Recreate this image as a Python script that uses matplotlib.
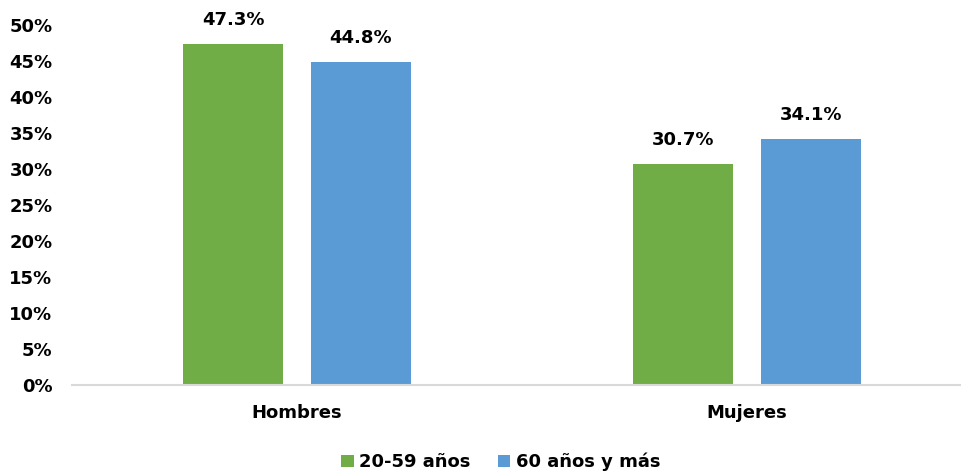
import matplotlib.pyplot as plt
from matplotlib.ticker import PercentFormatter
import numpy as np

categorias = ["Hombres", "Mujeres"]
series = ["20-59 años", "60 años y más"]
val_20_59 = [47.3, 30.7]
val_60_mas = [44.8, 34.1]
yticks = [0, 5, 10, 15, 20, 25, 30, 35, 40, 45, 50]

colores = ["#70AD47", "#5B9BD5"]

plt.rcParams['font.family'] = ['DejaVu Sans']
plt.rcParams['font.weight'] = 'bold'

fig = plt.figure(figsize=(9.61, 4.74), dpi=100)
ax = fig.add_axes([72 / 961, 89 / 474, 1 - 72 / 961, 360 / 474])

x = np.arange(len(categorias))
ancho = 100 / 450
desp = 64 / 450

b1 = ax.bar(x - desp, val_20_59, ancho, color=colores[0], label=series[0])
b2 = ax.bar(x + desp, val_60_mas, ancho, color=colores[1], label=series[1])

for barras in (b1, b2):
    for r in barras:
        ax.annotate(f"{r.get_height():.1f}%",
                    (r.get_x() + r.get_width() / 2, r.get_height()),
                    xytext=(0, 11), textcoords="offset points",
                    ha="center", va="bottom", fontsize=13, fontweight="bold",
                    annotation_clip=False)

ax.set_xlim(-0.5, 1.5 - 11 / 450)
ax.set_ylim(0, 50)
ax.set_yticks(yticks)
ax.yaxis.set_major_formatter(PercentFormatter(decimals=0))
ax.set_xticks(x)
ax.set_xticklabels(categorias)
ax.tick_params(axis="both", length=0, labelsize=13)
ax.tick_params(axis="x", pad=14)
ax.tick_params(axis="y", pad=14)

for s in ["top", "right", "left"]:
    ax.spines[s].set_visible(False)
ax.spines["bottom"].set_color("#D9D9D9")
ax.spines["bottom"].set_linewidth(1.5)

fig.legend(loc="center", bbox_to_anchor=(0.521, 12 / 474), ncol=2, frameon=False,
           fontsize=13, handlelength=0.7, handleheight=0.7, handletextpad=0.3,
           columnspacing=1.5)

fig.savefig("out.png", dpi=100)
